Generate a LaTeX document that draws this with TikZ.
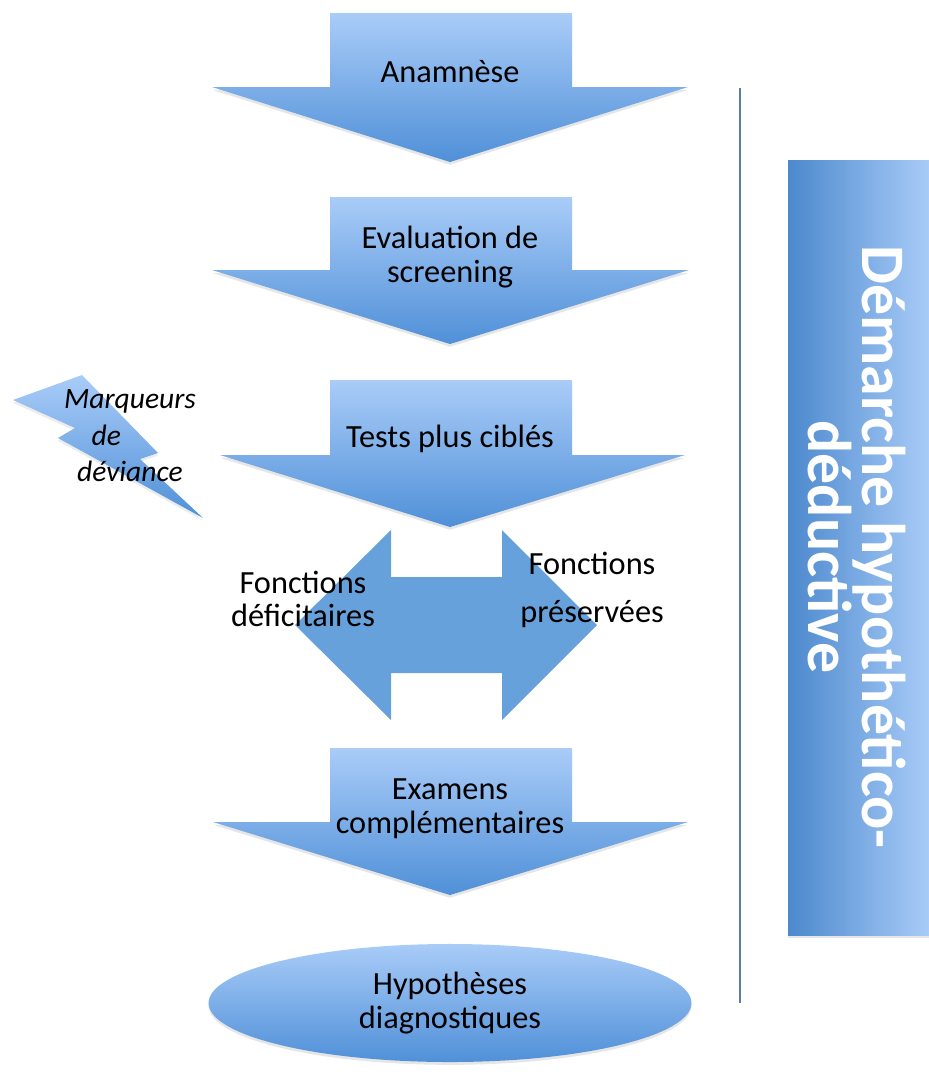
\documentclass[tikz,border=0pt]{standalone}
\usepackage{fontspec}
\setmainfont{Carlito}
\usepackage{tikz}
\usetikzlibrary{shapes,arrows,shadows}
\definecolor{lightarrow}{HTML}{A9CCF8}
\definecolor{darkarrow}{HTML}{5090D8}
\definecolor{flatarrow}{HTML}{66A1DC}
\definecolor{sideline}{HTML}{5A7DA8}
\tikzstyle{downarrow} = [top color=lightarrow, bottom color=darkarrow, draw=none,
    drop shadow={opacity=0.2, shadow xshift=0pt, shadow yshift=-2pt}]
\tikzstyle{twoway} = [fill=flatarrow, draw=none]
\tikzstyle{bolt} = [top color=lightarrow, bottom color=darkarrow, draw=none,
    drop shadow={opacity=0.15, shadow xshift=0pt, shadow yshift=-2pt}]
\tikzstyle{sidebox} = [left color=darkarrow!95!black, right color=lightarrow, draw=none,
    drop shadow={opacity=0.2, shadow xshift=0pt, shadow yshift=-2pt}]
\tikzstyle{oval} = [ellipse, top color=lightarrow, bottom color=darkarrow, draw=none,
    minimum width=12.07cm, minimum height=2.95cm, align=center,
    font=\fontsize{23}{24}\selectfont,
    drop shadow={opacity=0.2, shadow xshift=0pt, shadow yshift=-2pt}]
\tikzstyle{arrowtext} = [text=black, align=center, inner sep=0pt,
    font=\fontsize{23}{24}\selectfont]
\tikzstyle{vertext} = [text=white, align=center, inner sep=0pt, rotate=-90,
    font=\fontsize{44}{37}\selectfont\bfseries]
\tikzstyle{bolttext} = [text=black, align=center, inner sep=0pt,
    font=\fontsize{21}{26}\selectfont\itshape]
\tikzstyle{line} = [draw=sideline, line width=1.3pt]

\begin{document}
\begin{tikzpicture}[x=0.025cm, y=-0.025cm]
    \useasboundingbox (0,0) rectangle (928,1079);
    % Block arrows
    \path [downarrow] (330,13) -- (572,13) -- (572,87) -- (688,87) -- (450,162) -- (212,87) -- (330,87) -- cycle;
    \path [downarrow] (330,197) -- (572,197) -- (572,270) -- (689,270) -- (450,344) -- (212,270) -- (330,270) -- cycle;
    \path [downarrow] (330,380) -- (572,380) -- (572,455) -- (685,455) -- (450,527) -- (220,455) -- (330,455) -- cycle;
    \path [twoway] (295,625) -- (391,530) -- (391,577) -- (502,577) -- (502,530) -- (597,625)
        -- (502,720) -- (502,673) -- (391,673) -- (391,720) -- cycle;
    \path [downarrow] (330,748) -- (572,748) -- (572,822) -- (688,822) -- (450,895) -- (213,822) -- (330,822) -- cycle;
    % Lightning
    \path [bolt] (13,400) -- (82,375) -- (158,453) -- (140,459) -- (203,518) -- (58,438) -- (75,428) -- cycle;
    % Side box and line
    \path [sidebox] (788,160) rectangle (930,935);
    \coordinate (linetop) at (740,88);
    \coordinate (linebottom) at (740,1003);
    \path [line] (linetop) -- (linebottom);

    % Place nodes
    \node [arrowtext] (anamnese) at (450,72) {Anamnèse};
    \node [arrowtext] (screening) at (450,257) {Evaluation de\\screening};
    \node [arrowtext] (tests) at (450,439) {Tests plus ciblés};
    \node [arrowtext] (deficit) at (303,599) {Fonctions\\déficitaires};
    \node [arrowtext] (preserve) at (592,590) {Fonctions\\[10pt]préservées};
    \node [arrowtext] (examens) at (450,809) {Examens\\complémentaires};
    \node [oval] (hypotheses) at (450,1003) {Hypothèses\\diagnostiques};
    \node [bolttext] (marqueurs) at (130,436) {Marqueurs\\de\rule{1.6em}{0pt}\\déviance};
    \node [vertext] (demarche) at (857,547) {Démarche hypothético-\\déductive};
\end{tikzpicture}
\end{document}
